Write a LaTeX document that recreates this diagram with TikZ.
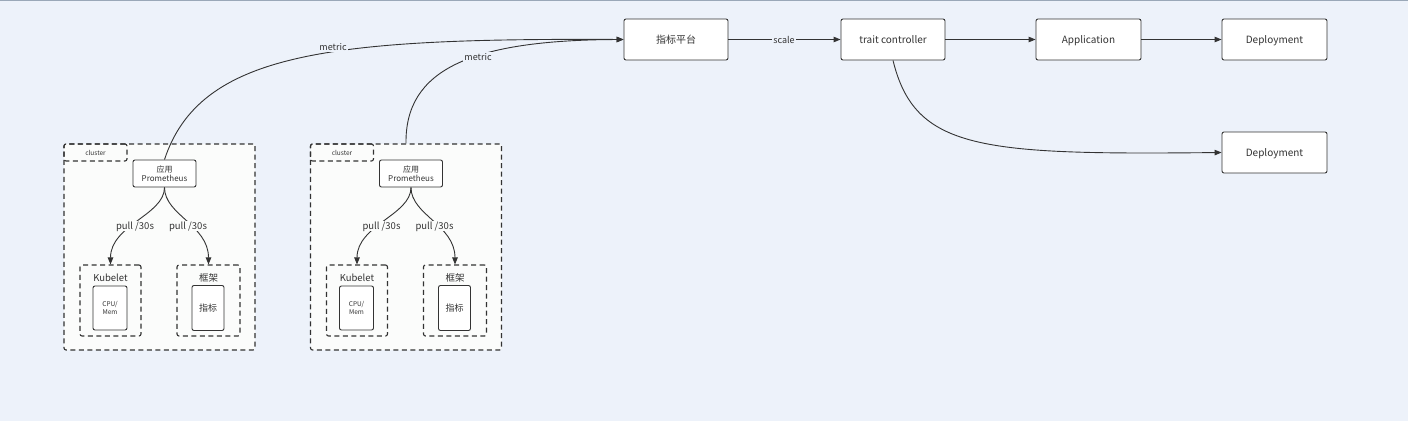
\documentclass[tikz,border=0pt]{standalone}
\usepackage{fontspec}
\setmainfont{Noto Sans CJK SC}
\usetikzlibrary{arrows.meta}
\definecolor{bgc}{HTML}{EDF2FA}
\definecolor{clc}{HTML}{FBFCFB}
\definecolor{lnc}{HTML}{333333}
\definecolor{topc}{HTML}{9AA8B8}
\tikzset{
  box/.style={draw=lnc, fill=white, rounded corners=2pt, line width=0.9pt, inner sep=1pt, align=center},
  tbox/.style={box, minimum height=41pt, text depth=0pt, text=lnc, font=\fontsize{10}{12}\selectfont},
  dbox/.style={draw=lnc, rounded corners=2pt, line width=1.1pt, dash pattern=on 5pt off 3.5pt, inner sep=0pt},
  conn/.style={draw=lnc, line width=0.9pt},
  arr/.style={conn, -{Triangle[length=7pt,width=5.5pt]}},
  lbl/.style={fill=bgc, inner sep=1pt, text=lnc, font=\fontsize{9}{10}\selectfont},
  clbl/.style={fill=clc, inner sep=1pt, text=lnc, font=\fontsize{9.5}{10}\selectfont},
}
\begin{document}
\begin{tikzpicture}[x=1pt,y=-1pt]
\fill[bgc] (0,0) rectangle (1408,421);
\useasboundingbox (0,0) rectangle (1408,421);
\draw[topc, line width=1.2pt] (0,0.6) -- (1408,0.6);

% top row
\node[tbox, minimum width=104pt] (zb) at (676,39.5) {指标平台};
\node[tbox, minimum width=104pt] (tc) at (893,39.5) {trait controller};
\node[tbox, minimum width=105pt] (app) at (1088.5,39.5) {Application};
\node[tbox, minimum width=105pt] (dep1) at (1274.5,39.5) {Deployment};
\node[tbox, minimum width=105pt] (dep2) at (1274.5,152.5) {Deployment};

\draw[arr] (zb) -- (tc);
\node[lbl] (scl) at (784,40) {scale};
\draw[arr] (tc) -- (app);
\draw[arr] (app) -- (dep1);
\draw[arr] (tc.south) .. controls (915,150) and (980,155) .. (dep2.west);

% clusters
\foreach \i/\dx in {1/0,2/246.5}{
\begin{scope}[xshift=\dx pt]
  \node[dbox, fill=clc, minimum width=191pt, minimum height=206pt] (c\i) at (159.5,247) {};
  \node[dbox, minimum width=63pt, minimum height=17pt, text=lnc, font=\fontsize{6.5}{7}\selectfont] (cl\i) at (95.5,152.5) {cluster};
  \node[box, minimum width=63pt, minimum height=27pt, font=\fontsize{8}{9.5}\selectfont, text=lnc] (p\i) at (164.5,173.5) {应用\\Prometheus};
  \node[dbox, minimum width=61pt, minimum height=71pt] (k\i) at (110.5,300.5) {};
  \node[text=lnc, font=\fontsize{9.5}{10}\selectfont, inner sep=0pt] (kl\i) at (110.5,277.5) {Kubelet};
  \node[box, minimum width=34pt, minimum height=44pt, font=\fontsize{6.5}{8.5}\selectfont, text=lnc] (cpu\i) at (110,308) {CPU/\\Mem};
  \node[dbox, minimum width=63pt, minimum height=71pt] (f\i) at (208.5,300.5) {};
  \node[text=lnc, font=\fontsize{9.5}{10}\selectfont, inner sep=0pt] (fl\i) at (208.5,277.5) {框架};
  \node[box, minimum width=32pt, minimum height=45pt, font=\fontsize{9}{10}\selectfont, text=lnc] (zbb\i) at (208,308) {指标};
  \draw[arr] (p\i.south) .. controls (164.5,215) and (110.5,225) .. (k\i.north);
  \draw[arr] (p\i.south) .. controls (164.5,215) and (208.5,225) .. (f\i.north);
  \node[clbl, text depth=0pt] (pl\i) at (135,226) {pull /30s};
  \node[clbl, text depth=0pt] (pr\i) at (188,226) {pull /30s};
\end{scope}
}

% metric curves
\draw[arr] (p1.north) .. controls (200,52) and (330,38) .. (zb.west);
\draw[arr] (c2.north) .. controls (405,70) and (470,40) .. (zb.west);
\node[lbl] (m1) at (333,47) {metric};
\node[lbl] (m2) at (478,57) {metric};
\end{tikzpicture}
\end{document}
